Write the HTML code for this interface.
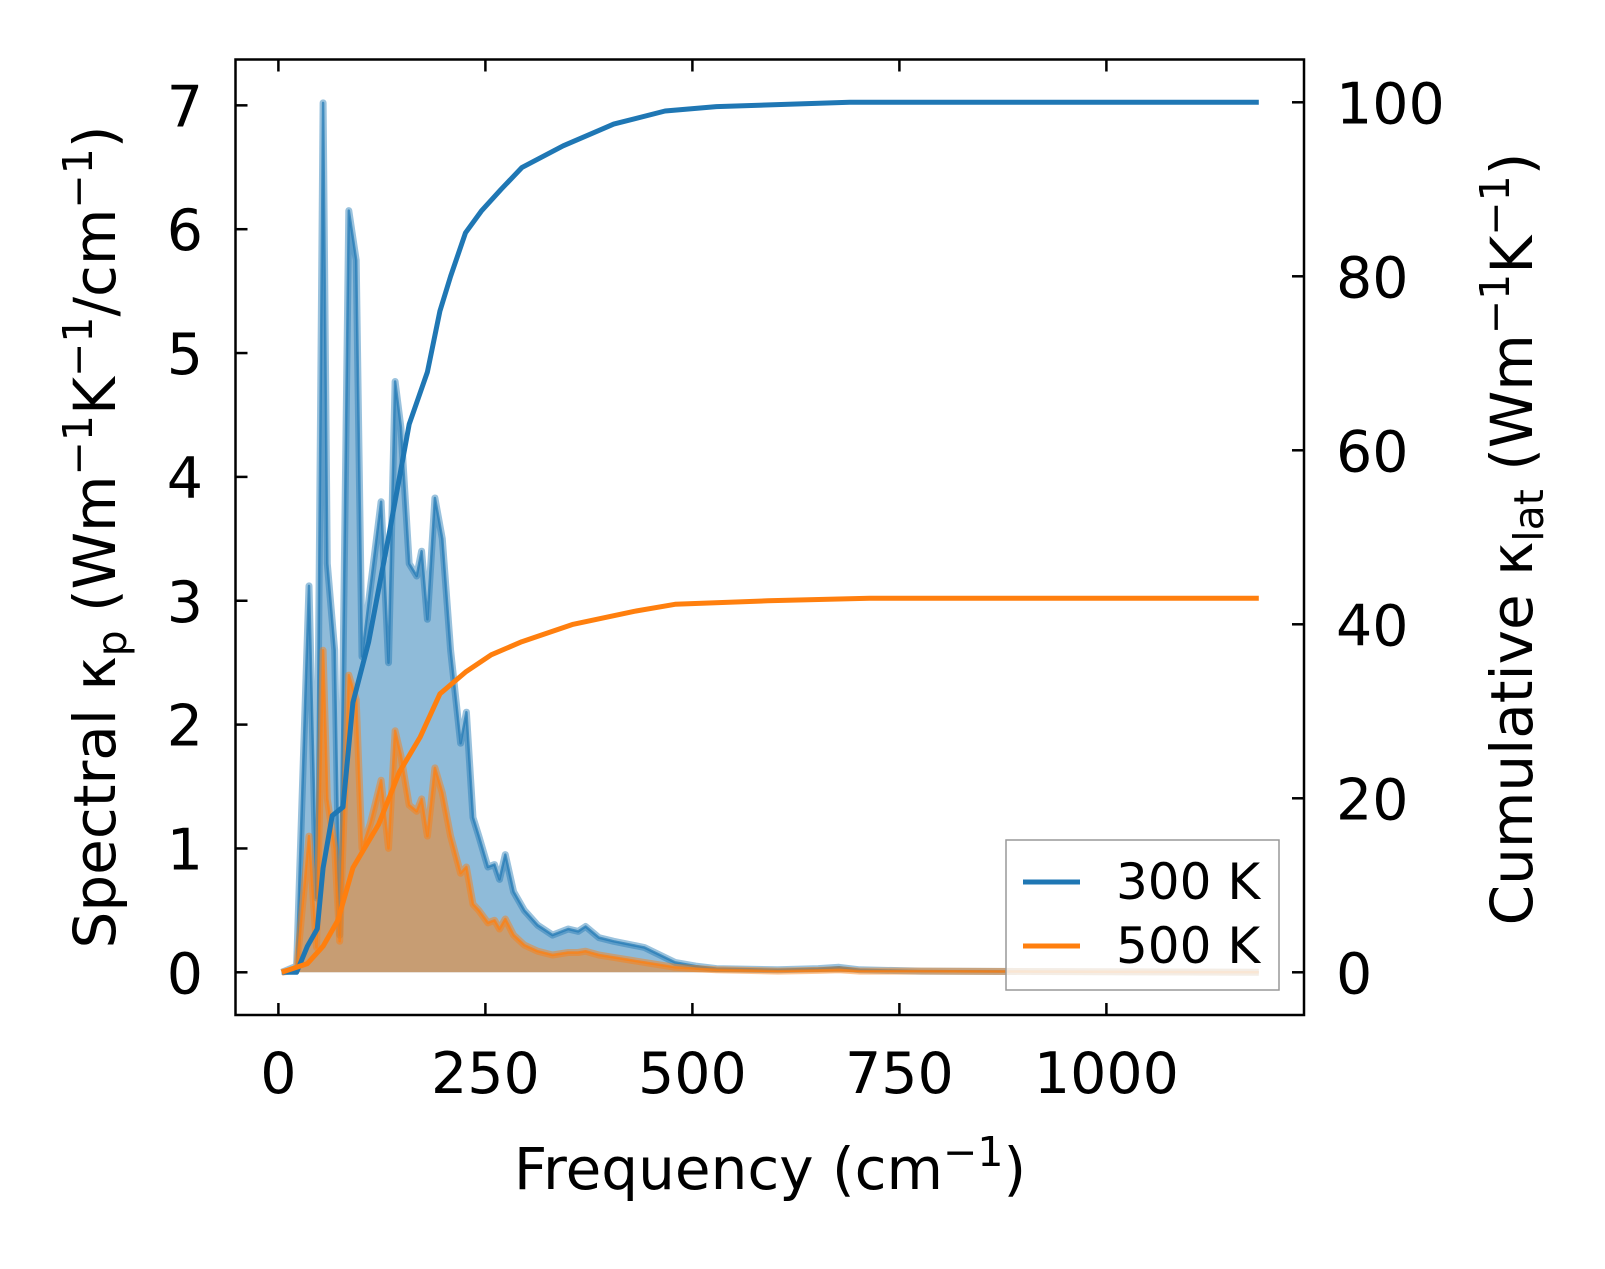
<!DOCTYPE html>
<html><head><meta charset="utf-8"><style>
body{margin:0;background:#fff}
svg text{font-family:"DejaVu Sans","Liberation Sans",sans-serif;fill:#000}
</style></head><body>
<svg id="chart" width="1605" height="1264" xmlns="http://www.w3.org/2000/svg">
<g id="plot"></g>
<rect x="235.5" y="59.5" width="1068.5" height="955.5" fill="none" stroke="#000" stroke-width="2.5"/>
<g id="ticks"></g>
<g>
<rect x="1006" y="840" width="273" height="150" fill="rgba(255,255,255,0.8)" stroke="#999" stroke-width="1.5"/>
<line x1="1023" y1="882" x2="1080" y2="882" stroke="#1f77b4" stroke-width="5"/>
<text x="1116" y="899" font-size="50">300 K</text>
<line x1="1023" y1="946" x2="1080" y2="946" stroke="#ff7f0e" stroke-width="5"/>
<text x="1116" y="963" font-size="50">500 K</text>
</g>
<text x="770" y="1189" font-size="58" text-anchor="middle">Frequency (cm<tspan font-size="41" dy="-23">−1</tspan><tspan dy="23">)</tspan></text>
<text transform="translate(115,537) rotate(-90)" font-size="58" text-anchor="middle">Spectral κ<tspan font-size="41" dy="11">p</tspan><tspan dy="-11"> (Wm</tspan><tspan font-size="41" dy="-23">−1</tspan><tspan dy="23">K</tspan><tspan font-size="41" dy="-23">−1</tspan><tspan dy="23">/cm</tspan><tspan font-size="41" dy="-23">−1</tspan><tspan dy="23">)</tspan></text>
<text transform="translate(1532,539) rotate(-90)" font-size="58" text-anchor="middle">Cumulative κ<tspan font-size="41" dy="11">lat</tspan><tspan dy="-11"> (Wm</tspan><tspan font-size="41" dy="-23">−1</tspan><tspan dy="23">K</tspan><tspan font-size="41" dy="-23">−1</tspan><tspan dy="23">)</tspan></text>
</svg>
<script>
const freqs=[4,22,37,46,54,59,68,74,85,94,101,111,124,133,141,148,158,167,173,180,189,198,208,220,227,235,242,253,261,267,274,284,297,313,331,350,362,371,387,405,442,479,504,529,603,652,677,702,776,1184];
const spec300=[0,0.05,3.12,0.6,7.02,3.3,2.6,0.3,6.15,5.75,2.55,3.1,3.8,2.5,4.77,4.4,3.3,3.2,3.4,2.85,3.83,3.5,2.6,1.85,2.1,1.25,1.1,0.85,0.87,0.75,0.95,0.65,0.5,0.38,0.3,0.35,0.33,0.37,0.28,0.25,0.2,0.08,0.05,0.03,0.02,0.03,0.04,0.02,0.01,0];
const spec500=[0,0.02,1.1,0.2,2.6,1.4,1.0,0.25,2.4,2.2,1.0,1.2,1.55,1.0,1.95,1.75,1.35,1.3,1.4,1.1,1.65,1.45,1.1,0.8,0.85,0.55,0.5,0.4,0.42,0.35,0.43,0.3,0.22,0.17,0.14,0.16,0.16,0.17,0.14,0.12,0.08,0.04,0.03,0.02,0.01,0.015,0.02,0.01,0.01,0];
const cumFreq300=[4,22,35,47,54,65,78,90,109,133,158,180,195,208,226,245,269,294,344,405,467,529,690,1184];
const cum300=[0,0,3,5,12,18,19,31,38,50,63,69,76,80,85,87.5,90,92.5,95,97.5,99,99.5,100,100];
const cumFreq500=[4,35,54,72,90,121,146,171,195,226,257,294,356,430,479,591,714,1184];
const cum500=[0,1,3,6,12,17,23,27,32,34.5,36.5,38,40,41.5,42.3,42.7,43,43];
const xTicks=[0,250,500,750,1000];
const yTicks=[0,1,2,3,4,5,6,7];
const y2Ticks=[0,20,40,60,80,100];

const X=f=>278.4+f*0.828, Y=v=>972.3-v*123.85, Y2=v=>972.3-v*8.7;
const NS="http://www.w3.org/2000/svg";
const plot=document.getElementById('plot'), tk=document.getElementById('ticks');
function mk(tag,attrs,parent){const e=document.createElementNS(NS,tag);for(const k in attrs)e.setAttribute(k,attrs[k]);parent.appendChild(e);return e;}
function pts(xs,ys,fy){return xs.map((f,i)=>X(f).toFixed(1)+','+fy(ys[i]).toFixed(1)).join(' ');}
function area(vals,col,name){
  const p=pts(freqs,vals,Y);
  const poly=mk('polygon',{points:X(freqs[0])+','+Y(0)+' '+p+' '+X(freqs[freqs.length-1])+','+Y(0),fill:col,'fill-opacity':0.5},plot);
  
  
  const e1=mk('polyline',{points:p,fill:'none',stroke:col,'stroke-width':7,'stroke-opacity':0.45,'stroke-linejoin':'round'},plot);
  
  
  const e2=mk('polyline',{points:p,fill:'none',stroke:col,'stroke-width':2.5,'stroke-opacity':0.7,'stroke-linejoin':'round'},plot);
  
  
}
area(spec300,'#1f77b4','spectral-300k');
area(spec500,'#ff7f0e','spectral-500k');
const c1=mk('polyline',{points:pts(cumFreq300,cum300,Y2),fill:'none',stroke:'#1f77b4','stroke-width':5,'stroke-linejoin':'round'},plot);


const c2=mk('polyline',{points:pts(cumFreq500,cum500,Y2),fill:'none',stroke:'#ff7f0e','stroke-width':5,'stroke-linejoin':'round'},plot);



xTicks.forEach(v=>{const x=X(v);
  mk('line',{x1:x,y1:1015,x2:x,y2:1003,stroke:'#000','stroke-width':2.5},tk);
  mk('line',{x1:x,y1:59.5,x2:x,y2:71.5,stroke:'#000','stroke-width':2.5},tk);
  const t=mk('text',{x:x,y:1093,'font-size':57,'text-anchor':'middle'},tk);t.textContent=v;
  
  
});
yTicks.forEach(v=>{const y=Y(v);
  mk('line',{x1:235.5,y1:y,x2:247.5,y2:y,stroke:'#000','stroke-width':2.5},tk);
  const t=mk('text',{x:203,y:y+21,'font-size':57,'text-anchor':'end'},tk);t.textContent=v;
  
  
});
y2Ticks.forEach(v=>{const y=Y2(v);
  mk('line',{x1:1304,y1:y,x2:1292,y2:y,stroke:'#000','stroke-width':2.5},tk);
  const t=mk('text',{x:1336,y:y+21,'font-size':57},tk);t.textContent=v;
  
  
});
</script>
</body></html>
